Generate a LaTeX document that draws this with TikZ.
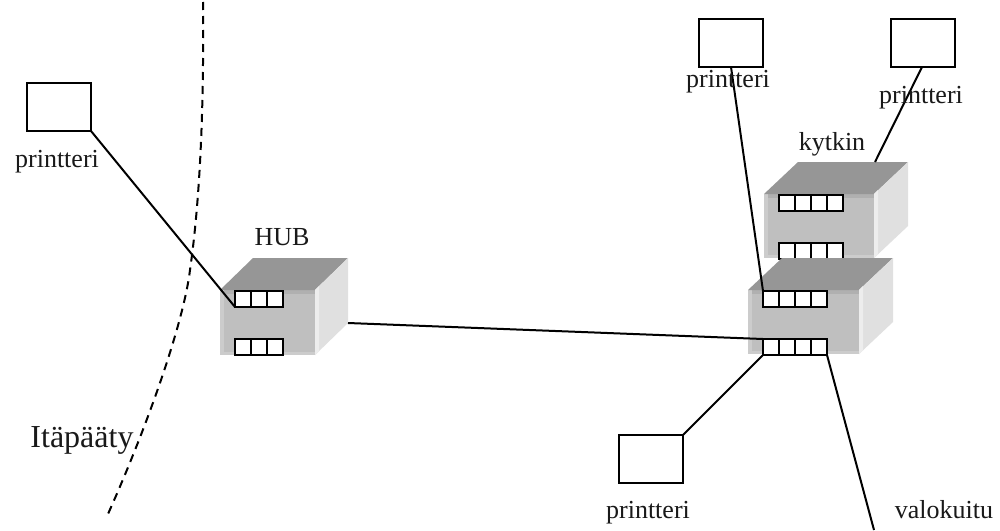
\documentclass[tikz,border=0pt]{standalone}
\usepackage{fontspec}
\setmainfont{Liberation Serif}
\tikzset{
  link/.style={draw=black,line width=2pt},
  printerbox/.style={draw=black,line width=2.4pt,fill=white,inner sep=0pt,outer sep=0pt,minimum width=64pt,minimum height=48pt,anchor=north west},
  portstrip/.style={draw=black,line width=2.4pt,fill=white,inner sep=0pt,outer sep=0pt,minimum height=16pt,anchor=north west},
  celldiv/.style={draw=black,line width=2.2pt},
  lbl/.style={font=\fontsize{26pt}{28pt}\selectfont,anchor=base,inner sep=0pt,text=black!90},
  biglbl/.style={font=\fontsize{32pt}{34pt}\selectfont,anchor=base,inner sep=0pt,text=black!90},
  topface/.style={fill=black!41},
  frontface/.style={fill=black!25},
  sideface/.style={fill=black!12},
  bevelA/.style={fill=black!31},
  bevelB/.style={fill=black!20},
  bevelC/.style={fill=black!7},
}
% \boxbody{front left}{front right}{front top}{front bottom}{depth x}{depth y}
\newcommand{\boxbody}[6]{%
  \fill[frontface] (#1,#3) rectangle (#2,#4);
  \fill[bevelA] (#1,#3) rectangle (#2,#3+4);
  \fill[bevelB] (#1,#3) rectangle (#1+4,#4);
  \fill[bevelB] (#1,#4-3) rectangle (#2,#4);
  \fill[topface] (#1,#3) -- (#1+#5,#3-#6) -- (#2+#5,#3-#6) -- (#2,#3) -- cycle;
  \fill[sideface] (#2,#3) -- (#2+#5,#3-#6) -- (#2+#5,#4-#6) -- (#2,#4) -- cycle;
  \fill[bevelC] (#2,#3) -- (#2+4,#3-4) -- (#2+4,#4-4) -- (#2,#4) -- cycle;
}
% \portrow{name}{x}{y}{cells}
\newcommand{\portrow}[4]{%
  \node[portstrip,minimum width=#4*16pt] (#1) at (#2,#3) {};
  \foreach \c in {1,...,#4}{\ifnum\c<#4\relax\draw[celldiv] (#2+\c*16,#3) -- (#2+\c*16,#3+16);\fi}
}
\begin{document}
\begin{tikzpicture}[x=1pt,y=-1pt]
\useasboundingbox (0,0) rectangle (1000,530);
\fill[white] (0,0) rectangle (1000,530);
% dashed boundary
\draw[black,line width=2pt,dash pattern=on 8pt off 6pt] (203,2) .. controls (204,110) and (200,200) .. (190,270) .. controls (184,320) and (150,420) .. (108,514);
% hub
\boxbody{220}{315}{290}{355}{33}{32}
\portrow{hubA}{235}{291}{3}
\portrow{hubB}{235}{339}{3}
\coordinate (hubside) at (348,323);
% kytkin
\boxbody{764}{874}{194}{258}{34}{32}
\portrow{kytA}{779}{195}{4}
\portrow{kytB}{779}{243}{4}
\coordinate (kyttop) at (875,162);
% lower switch
\boxbody{748}{859}{290}{354}{34}{32}
\portrow{swA}{763}{291}{4}
\portrow{swB}{763}{339}{4}
% printers
\node[printerbox] (prLeft) at (27,83) {};
\node[printerbox] (prA) at (699,19) {};
\node[printerbox] (prB) at (891,19) {};
\node[printerbox] (prC) at (619,435) {};
\coordinate (prAfoot) at (731,67);
\coordinate (prBfoot) at (922,67);
\coordinate (fibreEnd) at (874,530);
% connectors
\draw[link] (prLeft.south east) -- (hubA.south west);
\draw[link] (hubside) -- (swB.north west);
\draw[link] (prAfoot) -- (swA.north west);
\draw[link] (prBfoot) -- (kyttop);
\draw[link] (prC.north east) -- (swB.south west);
\draw[link] (swB.south east) -- (fibreEnd);
% labels
\node[lbl] (l1) at (57,167) {printteri};
\node[lbl] (l2) at (282,245) {HUB};
\node[lbl] (l3) at (728,87) {printteri};
\node[lbl] (l4) at (921,103) {printteri};
\node[lbl] (l5) at (832,150) {kytkin};
\node[lbl] (l6) at (648,518) {printteri};
\node[lbl] (l7) at (944,518) {valokuitu};
\node[biglbl] (l8) at (82,447) {Itäpääty};
\end{tikzpicture}
\end{document}
